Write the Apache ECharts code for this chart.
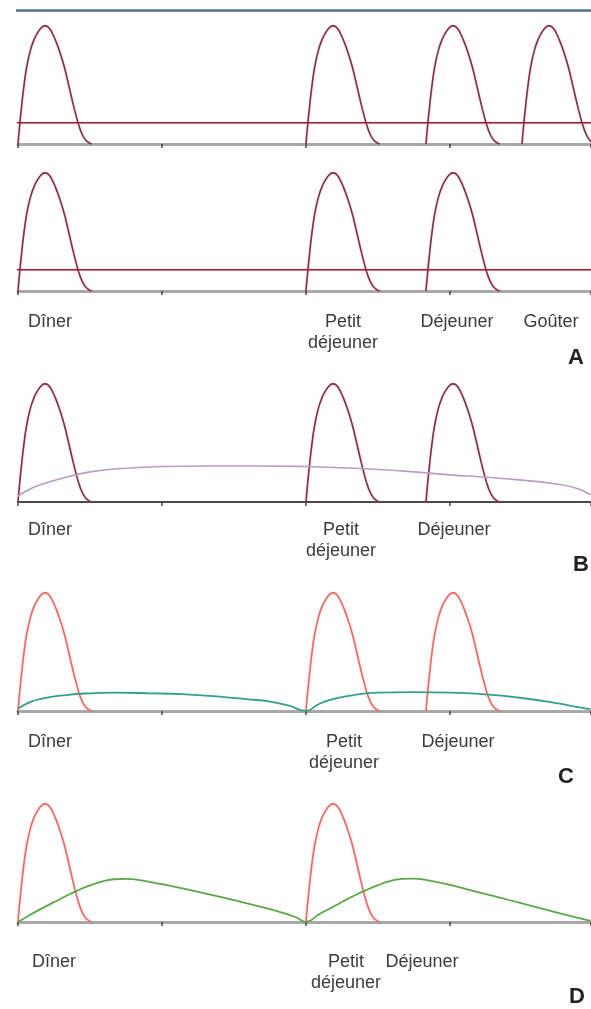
<!DOCTYPE html>
<html>
<head>
<meta charset="utf-8">
<script src="https://cdn.jsdelivr.net/npm/echarts@6/dist/echarts.min.js"></script>
<style>
html, body { margin: 0; padding: 0; background: #fff; }
#chart { width: 591px; height: 1009px; }
</style>
</head>
<body>
<div id="chart"></div>
<script>
// heures comptées depuis le dîner (0 = dîner)
var mealNames = ['Dîner', 'Petit\ndéjeuner', 'Déjeuner', 'Goûter'];
var mealHours = [0, 12, 17, 21];
var panelNames = ['A', 'B', 'C', 'D'];

// bolus d'analogue rapide : [heures après le repas, niveau]
var bolusProfile = [
    [0, 0], [0.06, 1.4], [0.14, 3.0], [0.24, 4.8], [0.36, 6.5], [0.5, 7.8],
    [0.66, 8.8], [0.84, 9.5], [1.0, 9.9], [1.12, 10], [1.26, 9.9], [1.4, 9.5],
    [1.56, 8.8], [1.74, 7.8], [1.92, 6.6], [2.1, 5.1], [2.26, 3.7], [2.42, 2.4],
    [2.58, 1.3], [2.76, 0.5], [2.94, 0.12], [3.08, 0]
];

// A : débit de base (pompe) et ligne du haut
var basalA = 1.8;
var topLineA = 11.3;

// B : insuline lente, une injection au dîner
var slowB = [
    [0, 0.5], [0.5, 1.1], [1, 1.5], [2, 2.1], [3, 2.55], [4, 2.8], [6, 3.0],
    [8, 3.05], [10, 3.05], [12, 3.0], [13.5, 2.9], [15, 2.75], [16.5, 2.55],
    [18, 2.3], [19.5, 2.1], [21, 1.85], [22.5, 1.5], [23.3, 1.15], [23.85, 0.6]
];

// C : deux injections d'intermédiaire
var slowC = [
    [0, 0.2], [0.5, 0.75], [1, 1.05], [2, 1.35], [3, 1.5], [4, 1.55], [5.5, 1.5],
    [7, 1.4], [8.5, 1.2], [9.5, 1.0], [10.5, 0.8], [11.3, 0.45], [12, 0],
    [12.5, 0.55], [13, 0.95], [14, 1.35], [15, 1.55], [16.5, 1.6], [18, 1.55],
    [19.5, 1.4], [21, 1.1], [22.5, 0.65], [23.4, 0.3], [23.85, 0.15]
];

// D : deux injections, pic plus marqué
var slowD = [
    [0, 0], [0.5, 0.6], [1, 1.15], [1.5, 1.68], [2, 2.2], [2.5, 2.68], [3, 3.1],
    [3.5, 3.42], [4, 3.62], [4.5, 3.66], [5, 3.56], [6, 3.2], [7, 2.78], [8, 2.32],
    [9, 1.85], [10, 1.35], [11, 0.8], [11.6, 0.38], [12, 0],
    [12.5, 0.6], [13, 1.15], [13.5, 1.7], [14, 2.22], [14.5, 2.7], [15, 3.12],
    [15.5, 3.46], [16, 3.66], [16.5, 3.68], [17, 3.56], [18, 3.15], [19, 2.62],
    [20, 2.1], [21, 1.58], [22, 1.04], [23, 0.52], [23.85, 0.1]
];

var xMax = 23.85;
var yMax = 10.5;
var gridH = 124;

var panels = [
    { axisY: 144, axis: '#a9a9a9', axisW: 3, meals: [0, 1, 2, 3], bolus: '#7e3045' },
    { axisY: 291, axis: '#a9a9a9', axisW: 3, meals: [0, 1, 2], bolus: '#7e3045' },
    { axisY: 502, axis: '#4a4a4a', axisW: 2, meals: [0, 1, 2], bolus: '#7e3045' },
    { axisY: 711, axis: '#a9a9a9', axisW: 3, meals: [0, 1, 2], bolus: '#ea6a62' },
    { axisY: 922, axis: '#a9a9a9', axisW: 3, meals: [0, 1], bolus: '#ea6a62' }
];

var grids = [], xAxes = [], yAxes = [], series = [];

panels.forEach(function (p, i) {
    grids.push({ left: 18, width: 572.4, top: p.axisY - gridH, height: gridH });
    xAxes.push({
        type: 'value', gridIndex: i, min: 0, max: xMax, interval: 6,
        axisLine: { lineStyle: { color: p.axis, width: p.axisW } },
        axisTick: { show: true, length: 4, lineStyle: { color: '#444', width: 1.5 } },
        axisLabel: { show: false },
        splitLine: { show: false }
    });
    yAxes.push({ type: 'value', gridIndex: i, min: 0, max: yMax, show: false });

    p.meals.forEach(function (m) {
        series.push({
            type: 'line', xAxisIndex: i, yAxisIndex: i,
            smooth: 0.5, symbol: 'none', z: 3,
            lineStyle: {
                color: p.bolus, width: 1.6,
                shadowColor: 'rgba(240,120,150,0.45)', shadowBlur: 2
            },
            data: bolusProfile.map(function (pt) { return [mealHours[m] + pt[0], pt[1]]; })
        });
    });
});

// A : lignes horizontales
series.push({
    type: 'line', xAxisIndex: 0, yAxisIndex: 0, symbol: 'none', clip: false,
    lineStyle: { color: '#4f7390', width: 2.5 },
    data: [[-0.2, topLineA], [24.2, topLineA]]
});
[0, 1].forEach(function (i) {
    series.push({
        type: 'line', xAxisIndex: i, yAxisIndex: i, symbol: 'none', clip: false,
        lineStyle: { color: '#8e2040', width: 1.6, shadowColor: 'rgba(240,120,150,0.45)', shadowBlur: 2 },
        data: [[-0.12, basalA], [24.2, basalA]]
    });
});

series.push({
    type: 'line', xAxisIndex: 2, yAxisIndex: 2, symbol: 'none', smooth: 0.5,
    lineStyle: { color: '#b99cc1', width: 1.6 }, data: slowB
});
series.push({
    type: 'line', xAxisIndex: 3, yAxisIndex: 3, symbol: 'none', smooth: 0.5,
    lineStyle: { color: '#33a08a', width: 1.8 }, data: slowC
});
series.push({
    type: 'line', xAxisIndex: 4, yAxisIndex: 4, symbol: 'none', smooth: 0.5,
    lineStyle: { color: '#5aa848', width: 1.8 }, data: slowD
});

// étiquettes des repas sous les panneaux A (bas), B, C, D
var labelFont = '18px "Liberation Sans", Arial, sans-serif';
var labelRows = [
    { top: 312, pos: [[28, 'left'], [343, 'center'], [457, 'center'], [551, 'center']], meals: [0, 1, 2, 3] },
    { top: 520, pos: [[28, 'left'], [341, 'center'], [454, 'center']], meals: [0, 1, 2] },
    { top: 732, pos: [[28, 'left'], [344, 'center'], [458, 'center']], meals: [0, 1, 2] },
    { top: 952, pos: [[32, 'left'], [346, 'center'], [422, 'center']], meals: [0, 1, 2] }
];
var letterPos = [[576, 358], [581, 565], [566, 777], [577, 997]];

var graphics = [];
labelRows.forEach(function (row, r) {
    row.meals.forEach(function (m, k) {
        graphics.push({
            type: 'text', x: row.pos[k][0], y: row.top, silent: true,
            style: {
                text: mealNames[m], font: labelFont, fill: '#3c3c3c',
                textAlign: row.pos[k][1], textVerticalAlign: 'top', lineHeight: 21
            }
        });
    });
    graphics.push({
        type: 'text', x: letterPos[r][0], y: letterPos[r][1], silent: true,
        style: {
            text: panelNames[r], font: 'bold 22px "Liberation Sans", Arial, sans-serif',
            fill: '#222', textAlign: 'center', textVerticalAlign: 'middle'
        }
    });
});

var myChart = echarts.init(document.getElementById('chart'));
myChart.setOption({
    animation: false,
    backgroundColor: '#fff',
    grid: grids,
    xAxis: xAxes,
    yAxis: yAxes,
    series: series,
    graphic: graphics
});
</script>
</body>
</html>
